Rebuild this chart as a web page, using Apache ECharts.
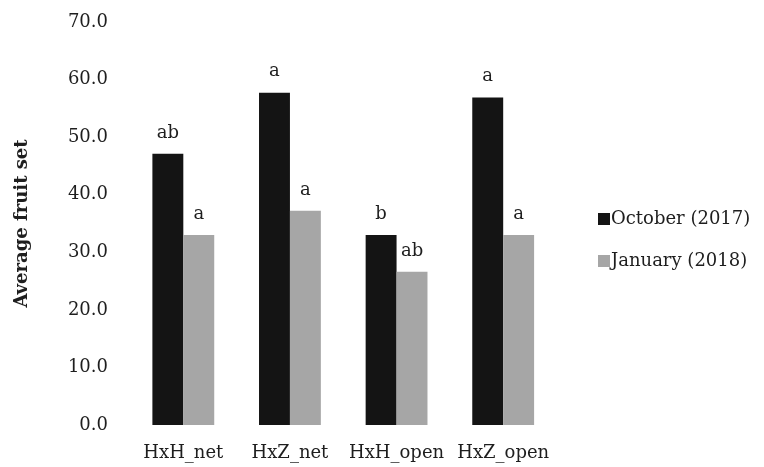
<!DOCTYPE html>
<html>
<head>
<meta charset="utf-8">
<script src="https://cdn.jsdelivr.net/npm/echarts@6/dist/echarts.min.js"></script>
<style>html,body{margin:0;padding:0;background:#fff;}#c{width:764px;height:467px;}</style>
</head>
<body>
<div id="c"></div>
<script>
const categories = ['HxH_net', 'HxZ_net', 'HxH_open', 'HxZ_open'];
const october = [47.1, 57.7, 33.0, 56.9];
const january = [33.0, 37.2, 26.6, 33.0];
const octoberLetters = ['ab', 'a', 'b', 'a'];
const januaryLetters = ['a', 'a', 'ab', 'a'];
const yTicks = [0, 10, 20, 30, 40, 50, 60, 70];

const FONT = 'DejaVu Serif';
const TXT = '#1e1e1e';
const chart = echarts.init(document.getElementById('c'), null, {renderer: 'canvas'});
chart.setOption({
  animation: false,
  backgroundColor: '#fff',
  grid: {left: 130, right: 207.5, top: 22, bottom: 42},
  legend: {
    orient: 'vertical', left: 593, top: 205,
    itemWidth: 12, itemHeight: 12, itemGap: 24,
    icon: 'rect',
    textStyle: {fontFamily: FONT, fontSize: 18, color: TXT, padding: [0,0,0,-4]},
    data: ['October (2017)', 'January (2018)']
  },
  xAxis: {
    type: 'category', data: categories,
    axisLine: {show: false}, axisTick: {show: false},
    axisLabel: {fontFamily: FONT, fontSize: 18, color: TXT, margin: 19, interval: 0}
  },
  yAxis: {
    type: 'value', min: yTicks[0], max: yTicks[yTicks.length-1], interval: 10,
    name: 'Average fruit set', nameLocation: 'middle', nameGap: 99,
    nameTextStyle: {fontFamily: FONT, fontSize: 18, fontWeight: 'bold', color: TXT},
    axisLine: {show: false}, axisTick: {show: false}, splitLine: {show: false},
    axisLabel: {fontFamily: FONT, fontSize: 18, color: TXT, margin: 22, formatter: v => v.toFixed(1)}
  },
  series: [
    {
      name: 'October (2017)', type: 'bar', data: october, barGap: '0%', barCategoryGap: '42%',
      itemStyle: {color: '#141414'},
      label: {show: true, position: 'top', distance: 12, fontFamily: FONT, fontSize: 18, color: TXT,
        formatter: p => octoberLetters[p.dataIndex]}
    },
    {
      name: 'January (2018)', type: 'bar', data: january, barGap: '0%', barCategoryGap: '42%',
      itemStyle: {color: '#a6a6a6'},
      label: {show: true, position: 'top', distance: 12, fontFamily: FONT, fontSize: 18, color: TXT,
        formatter: p => januaryLetters[p.dataIndex]}
    }
  ]
});
</script>
</body>
</html>
